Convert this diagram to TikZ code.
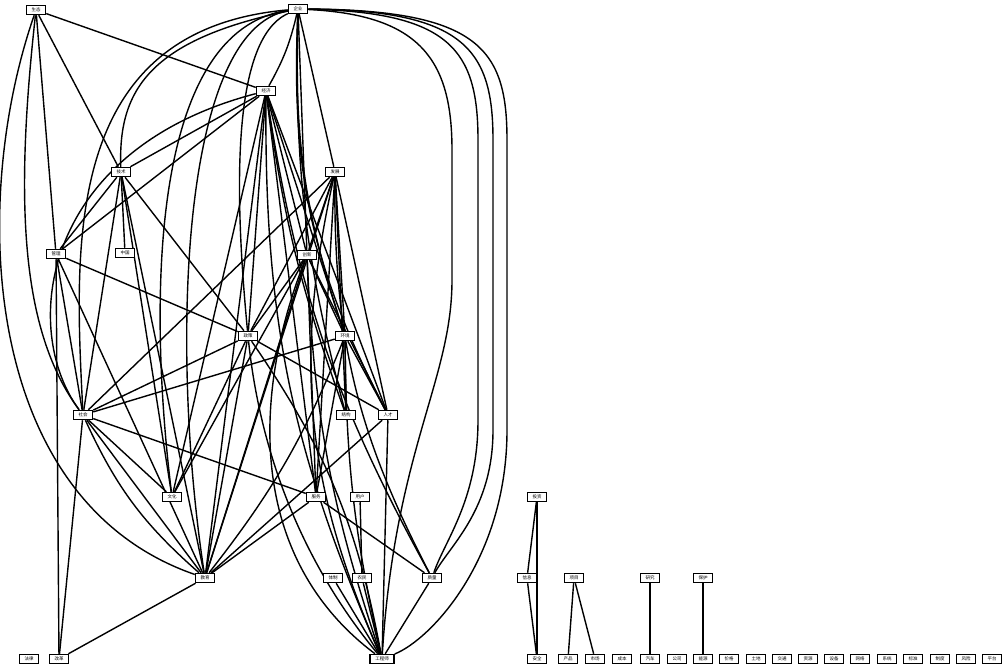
\documentclass[tikz,border=0pt]{standalone}
\usepackage{fontspec}
\newfontfamily\cjk{Noto Sans CJK SC}
\usetikzlibrary{backgrounds}

\tikzset{
  kw/.style={draw, line width=1.5pt, fill=white, inner sep=0.5pt,
    minimum width=19pt, minimum height=9pt,
    font=\cjk\fontsize{4.5}{5}\selectfont},
  link/.style={line width=1.4pt},
}

\begin{document}
\begin{tikzpicture}[x=1pt, y=-1pt]
  \useasboundingbox (0,0) rectangle (1005,671);

  % keyword nodes of the main cluster
  \foreach \n/\x/\y/\t in {A/36/10/生态, B/298/9/企业, C/266/91/经济,
      D/121/172/技术, E/335/172/发展, F/56/254/管理, G/125/253/中国,
      H/307/255/创新, I/248/336/政策, J/345/336/环境, K/83/415/社会,
      L/346/415/结构, M/388/415/人才, N/172/497/文化, O/316/497/服务,
      P/360/497/用户, Q/205/578/教育, R/333/578/体制, S/362/578/农民,
      T/432/578/质量, U/29/659/法律, V/59/659/改革}
    \node[kw] (\n) at (\x,\y) {\t};
  \node[kw, minimum width=24pt] (W) at (382,659) {工程师};

  % small clusters on the right
  \foreach \n/\x/\y/\t in {X/537/497/投资, Y/527/578/信息, Z/574/578/项目,
      AA/650/578/研究, AB/703/578/保护}
    \node[kw] (\n) at (\x,\y) {\t};

  % bottom row
  \foreach \i/\x/\t in {1/537/安全, 2/568/产品, 3/595/市场, 4/622/成本,
      5/650/汽车, 6/677/公司, 7/703/能源, 8/729/价格, 9/756/土地,
      10/782/交通, 11/808/资源, 12/834/设备, 13/860/网络, 14/887/系统,
      15/913/标准, 16/940/制度, 17/966/风险, 18/992/平台}
    \node[kw] (b\i) at (\x,659) {\t};

  \begin{scope}[on background layer]
    % straight links
    \foreach \a/\b in {A/C, A/D, A/F, B/H, B/E, C/D, C/F, C/H, C/I,
        C/J, C/M, C/N, C/Q, C/O, D/G, D/F, D/I, D/K, D/N, D/Q,
        E/H, E/I, E/J, E/K, E/M, E/Q, E/O, E/L, F/I, F/K, F/Q, F/V,
        H/I, H/J, H/N, H/Q, H/O, H/M, I/K, I/Q, I/N, I/M, J/K,
        J/L, J/M, J/O, K/N, K/Q, K/O, K/V, M/Q, O/T, O/Q, P/S,
        Q/V, R/W, S/W, T/W, M/W,
        X/Y, X/b1, Y/b1, Z/b2, Z/b3, AA/b5, AB/b7}
      \draw[link] (\a) -- (\b);

    % gently bent links
    \foreach \a/\b/\s in {B/C/8, B/J/-10, B/M/-15, B/L/-8, C/T/-10,
        C/W/-12, E/T/-14, H/W/-8, I/W/12, J/Q/8, J/W/-6, K/Q/-12,
        E/W/-18, C/L/-6}
      \draw[link] (\a) to[bend left=\s] (\b);

    % long curved links
    \draw[link] (A) .. controls (-30,200) and (-20,500) .. (Q);
    \draw[link] (A) .. controls (15,200) and (20,330) .. (K);
    \draw[link] (B) .. controls (150,40) and (118,90) .. (D);
    \draw[link] (B) .. controls (60,30) and (75,250) .. (K);
    \draw[link] (B) .. controls (150,30) and (148,300) .. (N);
    \draw[link] (B) .. controls (180,30) and (170,350) .. (Q);
    \draw[link] (B) .. controls (230,40) and (235,200) .. (I);
    \draw[link] (C) .. controls (40,150) and (20,330) .. (K);
    \draw[link] (H) .. controls (250,400) and (250,560) .. (W);
    \draw[link] (I) .. controls (260,450) and (300,560) .. (W);

    % arcs round the right side
    \draw[link] (B) .. controls (420,15) and (452,60) .. (452,150)
      -- (452,280) .. controls (452,380) and (395,450) .. (W);
    \draw[link] (B) .. controls (450,12) and (478,50) .. (478,140)
      -- (478,420) .. controls (478,500) and (445,540) .. (T);
    \draw[link] (B) .. controls (465,10) and (493,50) .. (493,140)
      -- (493,430) .. controls (493,510) and (450,545) .. (T);
    \draw[link] (B) .. controls (480,10) and (507,50) .. (507,140)
      -- (507,430) .. controls (507,560) and (430,640) .. (W);
  \end{scope}
\end{tikzpicture}
\end{document}
